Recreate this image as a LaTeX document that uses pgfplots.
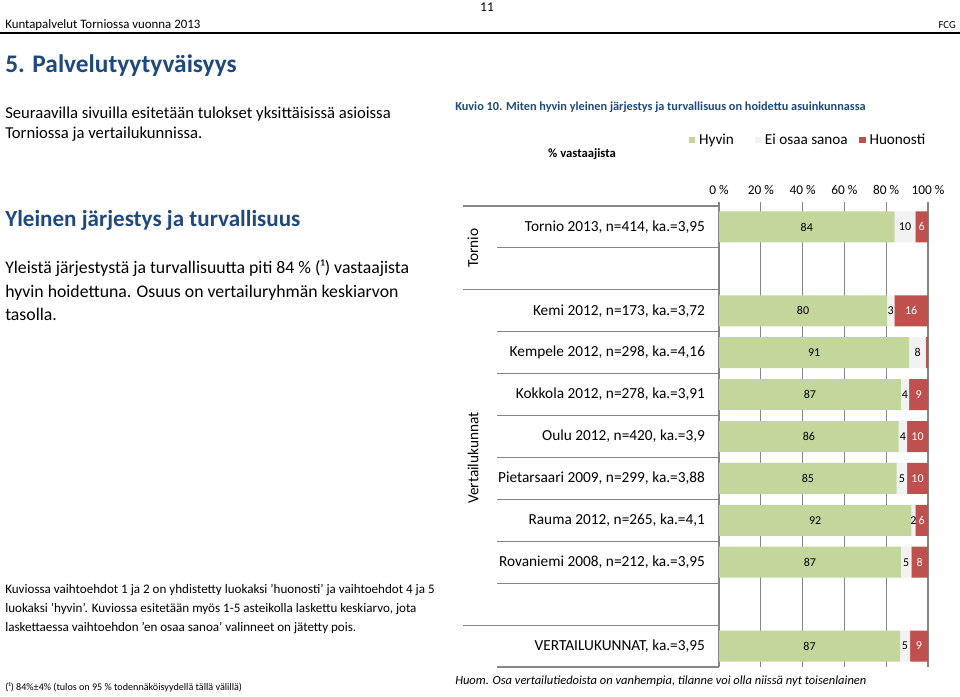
\documentclass[border=0pt]{standalone}
\usepackage{fontspec}
\setmainfont{Carlito}
\usepackage{pgfplots}
\pgfplotsset{compat=1.18}
\usepackage{pgfplotstable}

\definecolor{hyv}{HTML}{C3D69B}
\definecolor{eos}{HTML}{F2F2F2}
\definecolor{huo}{HTML}{C0504D}
\definecolor{sininen}{HTML}{1F497D}
\definecolor{viiva}{HTML}{868686}

\newcommand{\fs}[1]{\fontsize{#1}{#1}\selectfont}

\pgfplotsset{
  neliö/.style={legend image code/.code={\fill[##1] (0pt,-2.4pt) rectangle (4.8pt,2.4pt);}},
  kehys/.style={at={(539.25pt,-500.25pt)}, anchor=south west,
    scale only axis, width=156.75pt, height=345.75pt,
    xmin=0, xmax=100, ymin=-0.5, ymax=10.5},
}

% rivi 10 = Tornio (ylin), rivi 0 = vertailukunnat (alin)
\pgfplotstableread{
rivi hyv  eos  huo  lh le lr
10   84   10   6    84 10 6
8    80.4 3.5  16.1 80 3  16
7    91   8    1    91 8  {}
6    87   4    9    87 4  9
5    86   4    10   86 4  10
4    85   5    10   85 5  10
3    92   2    6    92 2  6
2    87   5    8    87 5  8
0    86.6 4.8  8.6  87 5  9
}\data

\begin{document}
\begin{tikzpicture}
\begin{scope}[x=0.75pt,y=-0.75pt]
  \useasboundingbox (0,0) rectangle (960,696);
  \fill[white] (0,0) rectangle (960,696);

  % sivun ylätunniste
  \node[anchor=base west, inner sep=0pt, font=\fs{9.65}] at (5,28) {Kuntapalvelut Torniossa vuonna 2013};
  \node[anchor=base, inner sep=0pt, font=\fs{10}] at (487,12) {11};
  \node[anchor=base east, inner sep=0pt, font=\fs{8}] at (956,28) {FCG};
  \draw[line width=1.3pt] (0,33) -- (960,33);

  \node[anchor=base west, inner sep=0pt, font=\bfseries\fs{19}, text=sininen] at (5,72) {5. Palvelutyytyväisyys};
  \node[anchor=base west, inner sep=0pt, font=\fs{12.5}] at (5,118) {Seuraavilla sivuilla esitetään tulokset yksittäisissä asioissa};
  \node[anchor=base west, inner sep=0pt, font=\fs{12.5}] at (5,138) {Torniossa ja vertailukunnissa.};

  \node[anchor=base west, inner sep=0pt, font=\bfseries\fs{17.3}, text=sininen] at (5,226) {Yleinen järjestys ja turvallisuus};
  \node[anchor=base west, inner sep=0pt, font=\fs{13.3}] at (5,273) {Yleistä järjestystä ja turvallisuutta piti 84 \% (¹) vastaajista};
  \node[anchor=base west, inner sep=0pt, font=\fs{13.3}] at (5,297) {hyvin hoidettuna. Osuus on vertailuryhmän keskiarvon};
  \node[anchor=base west, inner sep=0pt, font=\fs{13.3}] at (5,320) {tasolla.};

  \node[anchor=base west, inner sep=0pt, font=\fs{9.8}] at (5,593) {Kuviossa vaihtoehdot 1 ja 2 on yhdistetty luokaksi 'huonosti' ja vaihtoehdot 4 ja 5};
  \node[anchor=base west, inner sep=0pt, font=\fs{9.8}] at (5,612) {luokaksi 'hyvin'. Kuviossa esitetään myös 1-5 asteikolla laskettu keskiarvo, jota};
  \node[anchor=base west, inner sep=0pt, font=\fs{9.8}] at (5,631) {laskettaessa vaihtoehdon 'en osaa sanoa' valinneet on jätetty pois.};
  \node[anchor=base west, inner sep=0pt, font=\fs{7.6}] at (5,690) {(¹) 84\%±4\% (tulos on 95 \% todennäköisyydellä tällä välillä)};

  % kuvion otsikot
  \node[anchor=base west, inner sep=0pt, font=\bfseries\fs{9.2}, text=sininen] at (455,110) {Kuvio 10. Miten hyvin yleinen järjestys ja turvallisuus on hoidettu asuinkunnassa};
  \node[anchor=base, inner sep=0pt, font=\bfseries\fs{9.5}] at (582,157) {\% vastaajista};
  \node[anchor=base west, inner sep=0pt, font=\itshape\fs{9.37}] at (455,684) {Huom. Osa vertailutiedoista on vanhempia, tilanne voi olla niissä nyt toisenlainen};

  % ryhmät ja luokka-akselin viivat
  \node[rotate=90, inner sep=0pt, font=\fs{11.5}] at (473,248) {Tornio};
  \node[rotate=90, inner sep=0pt, font=\fs{11.5}] at (473,458) {Vertailukunnat};
  \foreach \y in {206,289.8,625.1} \draw[viiva, line width=0.8pt] (463,\y) -- (719,\y);
  \foreach \y in {247.9,331.7,373.6,415.5,457.5,499.4,541.3,583.2,667} \draw[viiva, line width=0.8pt] (497,\y) -- (719,\y);
\end{scope}

\begin{axis}[kehys,
  xbar stacked, bar width=23.25pt,
  axis x line*=top, axis y line*=left,
  x axis line style={draw=none},
  y axis line style={draw=viiva, line width=0.8pt},
  tick align=outside, major tick length=3pt,
  /pgf/number format/assume math mode=true,
  xtick={0,20,...,100},
  xticklabel={\pgfmathprintnumber{\tick}~\%},
  xticklabel style={font=\fs{10}, yshift=2pt},
  xtick style={draw=viiva, line width=0.8pt},
  xmajorgrids, grid style={viiva, line width=0.8pt},
  ytick={0,2,3,4,5,6,7,8,10},
  yticklabels={{VERTAILUKUNNAT, ka.=3,95},{Rovaniemi 2008, n=212, ka.=3,95},{Rauma 2012, n=265, ka.=4,1},{Pietarsaari 2009, n=299, ka.=3,88},{Oulu 2012, n=420, ka.=3,9},{Kokkola 2012, n=278, ka.=3,91},{Kempele 2012, n=298, ka.=4,16},{Kemi 2012, n=173, ka.=3,72},{Tornio 2013, n=414, ka.=3,95}},
  ytick style={draw=none},
  yticklabel style={font=\fs{11.5}, xshift=-4pt},
  legend columns=3,
  legend style={at={(0.421,1.143)}, anchor=center, draw=none, fill=none,
    font=\fs{11.4}, inner sep=0pt,
    nodes={inner xsep=0pt},
    /tikz/column 1/.style={column sep=3pt},
    /tikz/column 2/.style={column sep=15.5pt},
    /tikz/column 3/.style={column sep=3pt},
    /tikz/column 4/.style={column sep=8.5pt},
    /tikz/column 5/.style={column sep=3pt}},
]
\addplot[fill=hyv, draw=none, neliö] table[x=hyv, y=rivi]{\data};
\addlegendentry{Hyvin}
\addplot[fill=eos, draw=none, neliö] table[x=eos, y=rivi]{\data};
\addlegendentry{Ei osaa sanoa}
\addplot[fill=huo, draw=none, neliö] table[x=huo, y=rivi]{\data};
\addlegendentry{Huonosti}
\end{axis}

% arvomerkinnät osien keskelle
\begin{axis}[kehys, hide axis, clip=false,
  every node near coord/.append style={anchor=center, font=\fs{9}}]
\addplot[draw=none, nodes near coords, point meta=explicit symbolic]
  table[x expr=\thisrow{hyv}/2, y=rivi, meta=lh]{\data};
\addplot[draw=none, nodes near coords, point meta=explicit symbolic]
  table[x expr=\thisrow{hyv}+\thisrow{eos}/2, y=rivi, meta=le]{\data};
\addplot[draw=none, nodes near coords, point meta=explicit symbolic,
  every node near coord/.append style={text=white}]
  table[x expr=\thisrow{hyv}+\thisrow{eos}+\thisrow{huo}/2, y=rivi, meta=lr]{\data};
\end{axis}
\end{tikzpicture}
\end{document}
